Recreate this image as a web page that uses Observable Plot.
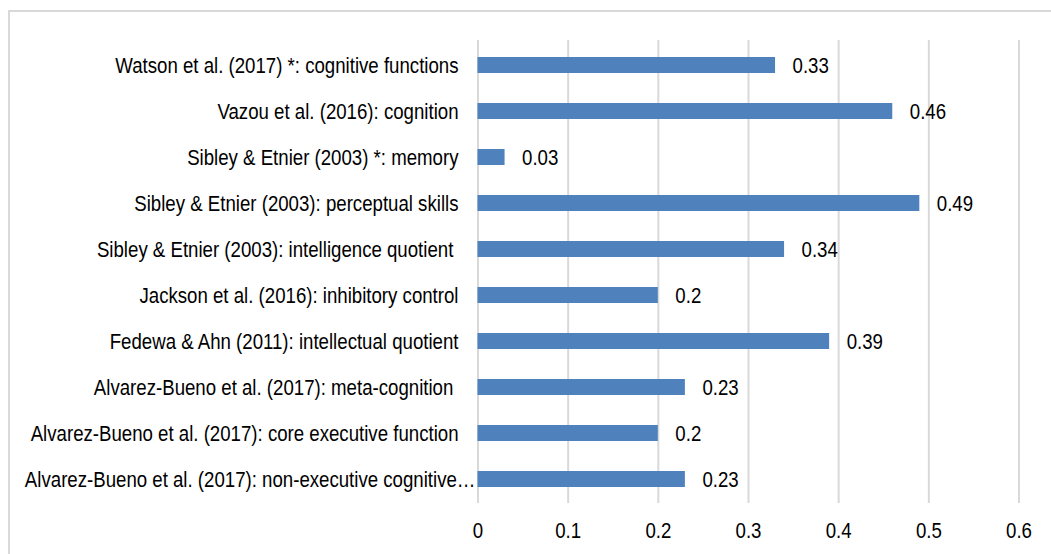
<!DOCTYPE html>
<html>
<head>
<meta charset="utf-8">
<script src="https://cdn.jsdelivr.net/npm/d3@7"></script>
<script src="https://cdn.jsdelivr.net/npm/@observablehq/plot@0.6"></script>
<style>
  html, body { margin: 0; padding: 0; background: #fff; }
  #wrap { position: relative; width: 1051px; height: 554px; overflow: hidden; }
  #frame { position: absolute; left: 8px; top: 10px; width: 1100px; height: 600px;
           border-top: 2px solid #d9d9d9; border-left: 2px solid #d9d9d9; box-sizing: border-box; }
  #chart { position: absolute; left: 0; top: 0; }
</style>
</head>
<body>
<div id="wrap"><div id="frame"></div><div id="chart"></div></div>
<script>
const categories = [
  "Watson et al. (2017) *: cognitive functions",
  "Vazou et al. (2016): cognition",
  "Sibley & Etnier (2003) *: memory",
  "Sibley & Etnier (2003): perceptual skills",
  "Sibley & Etnier (2003): intelligence quotient\u00a0",
  "Jackson et al. (2016): inhibitory control",
  "Fedewa & Ahn (2011): intellectual quotient",
  "Alvarez-Bueno et al. (2017): meta-cognition\u00a0",
  "Alvarez-Bueno et al. (2017): core executive function",
  "Alvarez-Bueno et al. (2017): non-executive cognitive…"
];
const effectSizes = [0.33, 0.46, 0.03, 0.49, 0.34, 0.2, 0.39, 0.23, 0.2, 0.23];
const xTicks = [0, 0.1, 0.2, 0.3, 0.4, 0.5, 0.6];

const data = categories.map((c, i) => ({category: c, value: effectSizes[i]}));
const FONT = "'Liberation Sans Narrow', 'Arial Narrow', 'Liberation Sans', Arial, sans-serif";
const FS = 22;

const chart = Plot.plot({
  width: 1051,
  height: 554,
  marginLeft: 477.5,
  marginRight: 32.5,
  marginTop: 40,
  marginBottom: 51,
  style: {fontFamily: FONT, fontSize: FS + "px", color: "#000", background: "transparent", overflow: "visible"},
  x: {domain: [0, 0.6], ticks: xTicks},
  y: {domain: categories, paddingInner: 0.655, paddingOuter: 0.3275},
  marks: [
    Plot.ruleX(xTicks, {stroke: "#d9d9d9", strokeWidth: 2}),
    Plot.barX(data, {x: "value", y: "category", fill: "#4f81bd"}),
    Plot.text(data, {x: "value", y: "category", text: d => String(d.value), dx: 17, textAnchor: "start", fill: "#000", fontSize: FS}),
    Plot.axisX({ticks: xTicks, tickSize: 0, tickPadding: 19, tickFormat: d => String(d), label: null, fontSize: FS}),
    Plot.axisY({tickSize: 0, tickPadding: 19.5, label: null, fontSize: FS})
  ]
});
// emulate a narrow (condensed) face: compress each text horizontally around its anchor
chart.querySelectorAll("text").forEach(t => {
  const tr = t.getAttribute("transform") || "";
  const x = t.getAttribute("x");
  // truncated category label runs right up to the axis, as in the original
  const shift = t.textContent.endsWith("…") ? " translate(17,0)" : "";
  if (x != null && !tr) {
    t.setAttribute("transform", `translate(${x},0)${shift} scale(0.848,1)`);
    t.setAttribute("x", 0);
  } else {
    t.setAttribute("transform", (tr + shift + " scale(0.848,1)").trim());
  }
});
document.getElementById("chart").appendChild(chart);
</script>
</body>
</html>
